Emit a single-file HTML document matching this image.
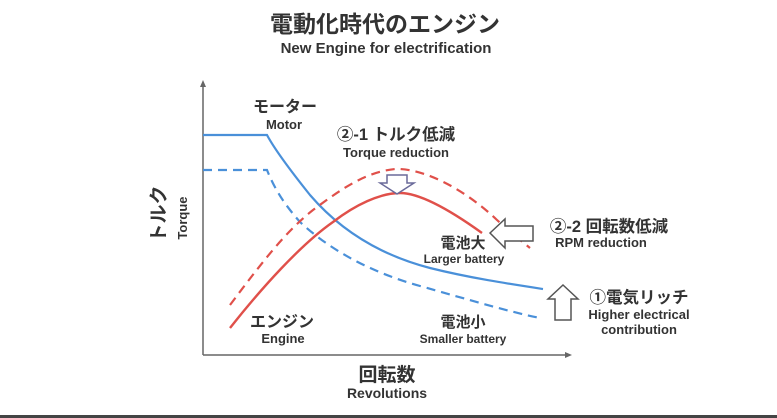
<!DOCTYPE html>
<html><head><meta charset="utf-8"><style>
html,body{margin:0;padding:0;background:#fff;}
svg{display:block;}
text{font-family:"Liberation Sans","Noto Sans CJK JP",sans-serif;font-weight:bold;fill:#333;}
</style></head><body>
<svg width="777" height="418" viewBox="0 0 777 418" xmlns="http://www.w3.org/2000/svg">
<rect width="777" height="418" fill="#fff"/>
<text x="385" y="32" font-size="23" text-anchor="middle" fill="#222">電動化時代のエンジン</text>
<text x="386" y="53" font-size="15" text-anchor="middle">New Engine for electrification</text>
<line x1="203" y1="355" x2="203" y2="84" stroke="#666" stroke-width="1.5"/>
<polygon points="203,80 200,87 206,87" fill="#666"/>
<line x1="203" y1="355" x2="568" y2="355" stroke="#666" stroke-width="1.5"/>
<polygon points="572,355 565,352 565,358" fill="#666"/>
<text transform="translate(165,214) rotate(-90)" font-size="19" text-anchor="middle" fill="#222">トルク</text>
<text transform="translate(187,218) rotate(-90)" font-size="13" text-anchor="middle">Torque</text>
<text x="387" y="381" font-size="19" text-anchor="middle" fill="#222">回転数</text>
<text x="387" y="398" font-size="14" text-anchor="middle">Revolutions</text>
<path d="M203,135 L267,135 C275,150 290,170 310,195 C340,230 380,255 430,268 C470,278 510,284 543,289" fill="none" stroke="#4a90d9" stroke-width="2.2"/>
<path d="M203,170 L267,170 C275,190 285,205 300,222 C330,250 370,272 420,286 C470,300 510,312 540,318" fill="none" stroke="#4a90d9" stroke-width="2.2" stroke-dasharray="9,6"/>
<path d="M230,328 C260,290 300,245 333,222 C355,205 380,193 400,193 C420,193 450,210 482,233" fill="none" stroke="#e0504a" stroke-width="2.4"/>
<path d="M230,305 C260,265 285,232 313,210 C340,190 365,172 395,169 C420,168 460,185 497,220 C510,232 520,240 530,248" fill="none" stroke="#e0504a" stroke-width="2.2" stroke-dasharray="9,6"/>
<polygon points="387,175 407,175 407,183 414,183 397,194 380,183 387,183" fill="#fff" stroke="#6a6a9a" stroke-width="1.5"/>
<polygon points="490,233 505,219 505,226 533,226 533,241 505,241 505,248" fill="#fff" stroke="#555" stroke-width="1.5"/>
<polygon points="563,285 578,299 571,299 571,320 555,320 555,299 548,299" fill="#fff" stroke="#555" stroke-width="1.5"/>
<text x="285" y="112" font-size="16" text-anchor="middle" fill="#222">モーター</text>
<text x="284" y="129" font-size="13" text-anchor="middle">Motor</text>
<text x="396" y="140" font-size="16.5" text-anchor="middle" fill="#222">②-1 トルク低減</text>
<text x="396" y="157" font-size="13" text-anchor="middle">Torque reduction</text>
<text x="609" y="232" font-size="16.5" text-anchor="middle" fill="#222">②-2 回転数低減</text>
<text x="601" y="247" font-size="13" text-anchor="middle">RPM reduction</text>
<text x="639" y="303" font-size="16.5" text-anchor="middle" fill="#222">①電気リッチ</text>
<text x="639" y="319" font-size="13" text-anchor="middle">Higher electrical</text>
<text x="639" y="334" font-size="13" text-anchor="middle">contribution</text>
<text x="463" y="248" font-size="15" text-anchor="middle" fill="#222">電池大</text>
<text x="464" y="263" font-size="12" text-anchor="middle">Larger battery</text>
<text x="463" y="327" font-size="15" text-anchor="middle" fill="#222">電池小</text>
<text x="463" y="343" font-size="12" text-anchor="middle">Smaller battery</text>
<text x="282" y="327" font-size="16" text-anchor="middle" fill="#222">エンジン</text>
<text x="283" y="343" font-size="13" text-anchor="middle">Engine</text>
<rect x="0" y="415" width="777" height="3" fill="#444"/>
</svg>
</body></html>
